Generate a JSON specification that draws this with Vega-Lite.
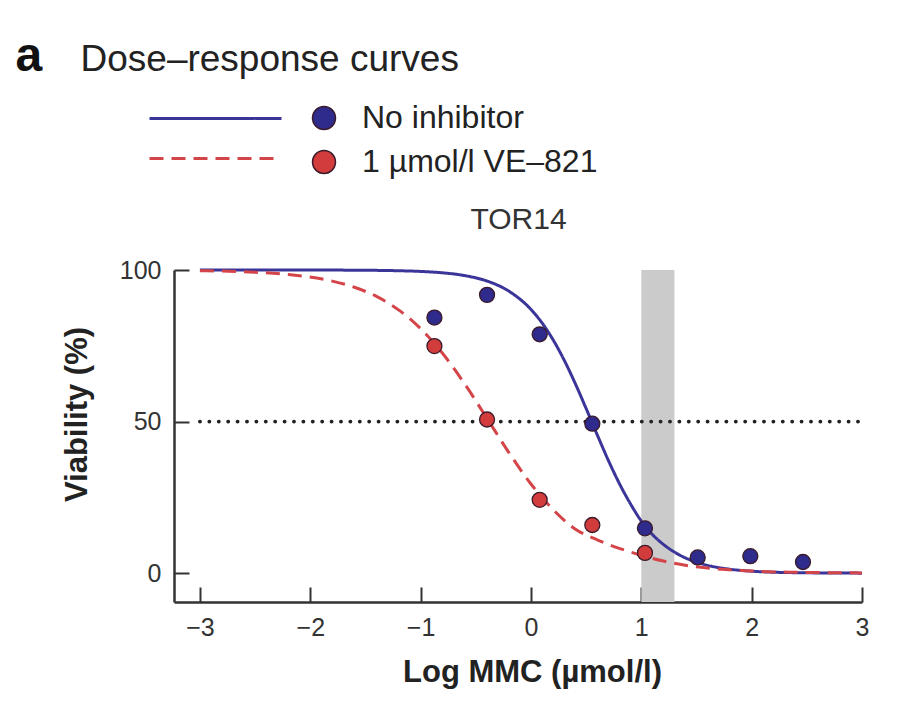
{
  "$schema": "https://vega.github.io/schema/vega-lite/v6.json",
  "width": 688,
  "height": 332,
  "autosize": {"type": "none"},
  "padding": {"left": 174, "top": 270, "right": 55, "bottom": 118},
  "background": "white",
  "config": {
    "view": {"stroke": null},
    "font": "Liberation Sans",
    "axis": {"labelFont": "Liberation Sans", "titleFont": "Liberation Sans", "grid": false, "labelColor": "#333", "titleColor": "#222"},
    "legend": {"labelFont": "Liberation Sans", "labelColor": "#222"}
  },
  "datasets": {
    "band": [{"x1": 1.0, "x2": 1.3, "y1": -9.5, "y2": 100}],
    "ref": [{"x1": -3, "x2": 3, "y": 50}],
    "curves": [
      {"curve": "No inhibitor fit", "x": -3.0, "y": 100},
      {"curve": "No inhibitor fit", "x": -2.6, "y": 100},
      {"curve": "No inhibitor fit", "x": -2.2, "y": 99.99},
      {"curve": "No inhibitor fit", "x": -1.8, "y": 99.97},
      {"curve": "No inhibitor fit", "x": -1.4, "y": 99.88},
      {"curve": "No inhibitor fit", "x": -1.2, "y": 99.76},
      {"curve": "No inhibitor fit", "x": -1.0, "y": 99.53},
      {"curve": "No inhibitor fit", "x": -0.8, "y": 99.07},
      {"curve": "No inhibitor fit", "x": -0.6, "y": 98.15},
      {"curve": "No inhibitor fit", "x": -0.4, "y": 96.38},
      {"curve": "No inhibitor fit", "x": -0.2, "y": 93.02},
      {"curve": "No inhibitor fit", "x": 0.0, "y": 86.99},
      {"curve": "No inhibitor fit", "x": 0.1, "y": 82.56},
      {"curve": "No inhibitor fit", "x": 0.2, "y": 77.01},
      {"curve": "No inhibitor fit", "x": 0.3, "y": 70.34},
      {"curve": "No inhibitor fit", "x": 0.4, "y": 62.67},
      {"curve": "No inhibitor fit", "x": 0.5, "y": 54.31},
      {"curve": "No inhibitor fit", "x": 0.6, "y": 45.69},
      {"curve": "No inhibitor fit", "x": 0.7, "y": 37.33},
      {"curve": "No inhibitor fit", "x": 0.8, "y": 29.66},
      {"curve": "No inhibitor fit", "x": 0.9, "y": 22.99},
      {"curve": "No inhibitor fit", "x": 1.0, "y": 17.2},
      {"curve": "No inhibitor fit", "x": 1.1, "y": 12.8},
      {"curve": "No inhibitor fit", "x": 1.2, "y": 9.5},
      {"curve": "No inhibitor fit", "x": 1.3, "y": 6.97},
      {"curve": "No inhibitor fit", "x": 1.4, "y": 5.04},
      {"curve": "No inhibitor fit", "x": 1.6, "y": 2.59},
      {"curve": "No inhibitor fit", "x": 1.8, "y": 1.32},
      {"curve": "No inhibitor fit", "x": 2.0, "y": 0.66},
      {"curve": "No inhibitor fit", "x": 2.4, "y": 0.17},
      {"curve": "No inhibitor fit", "x": 3.0, "y": 0.02},
      {"curve": "VE-821 fit", "x": -3.0, "y": 99.76},
      {"curve": "VE-821 fit", "x": -2.6, "y": 99.4},
      {"curve": "VE-821 fit", "x": -2.2, "y": 98.51},
      {"curve": "VE-821 fit", "x": -1.8, "y": 96.34},
      {"curve": "VE-821 fit", "x": -1.6, "y": 94.31},
      {"curve": "VE-821 fit", "x": -1.4, "y": 91.28},
      {"curve": "VE-821 fit", "x": -1.2, "y": 86.85},
      {"curve": "VE-821 fit", "x": -1.0, "y": 80.65},
      {"curve": "VE-821 fit", "x": -0.8, "y": 72.45},
      {"curve": "VE-821 fit", "x": -0.6, "y": 62.4},
      {"curve": "VE-821 fit", "x": -0.4, "y": 51.15},
      {"curve": "VE-821 fit", "x": -0.2, "y": 39.78},
      {"curve": "VE-821 fit", "x": 0.0, "y": 29.42},
      {"curve": "VE-821 fit", "x": 0.2, "y": 21.0},
      {"curve": "VE-821 fit", "x": 0.4, "y": 14.6},
      {"curve": "VE-821 fit", "x": 0.6, "y": 11.0},
      {"curve": "VE-821 fit", "x": 0.8, "y": 8.2},
      {"curve": "VE-821 fit", "x": 1.0, "y": 5.9},
      {"curve": "VE-821 fit", "x": 1.2, "y": 4.0},
      {"curve": "VE-821 fit", "x": 1.4, "y": 2.6},
      {"curve": "VE-821 fit", "x": 1.6, "y": 1.7},
      {"curve": "VE-821 fit", "x": 1.8, "y": 1.1},
      {"curve": "VE-821 fit", "x": 2.0, "y": 0.7},
      {"curve": "VE-821 fit", "x": 2.4, "y": 0.3},
      {"curve": "VE-821 fit", "x": 3.0, "y": 0.1}
    ],
    "points": [
      {"group": "No inhibitor", "x": -0.875, "y": 84.3},
      {"group": "No inhibitor", "x": -0.398, "y": 91.8},
      {"group": "No inhibitor", "x": 0.079, "y": 78.8},
      {"group": "No inhibitor", "x": 0.556, "y": 49.3},
      {"group": "No inhibitor", "x": 1.033, "y": 14.8},
      {"group": "No inhibitor", "x": 1.511, "y": 5.2},
      {"group": "No inhibitor", "x": 1.988, "y": 5.6},
      {"group": "No inhibitor", "x": 2.465, "y": 3.7},
      {"group": "1 µmol/l VE–821", "x": -0.875, "y": 74.9},
      {"group": "1 µmol/l VE–821", "x": -0.398, "y": 50.7},
      {"group": "1 µmol/l VE–821", "x": 0.079, "y": 24.2},
      {"group": "1 µmol/l VE–821", "x": 0.556, "y": 15.9},
      {"group": "1 µmol/l VE–821", "x": 1.033, "y": 6.7}
    ]
  },
  "resolve": {"axis": {"x": "independent", "y": "independent"}},
  "layer": [
    {
      "data": {"name": "band"},
      "mark": {"type": "rect", "color": "#cbcbcb"},
      "encoding": {
        "x": {"field": "x1", "type": "quantitative", "scale": {"domain": [-3.235, 3], "nice": false, "zero": false},
          "axis": {"orient": "top", "title": "Dose–response curves", "domain": false, "ticks": false, "labels": false,
            "titleX": -94, "titleY": -200, "titleAlign": "left", "titleBaseline": "alphabetic", "titleAngle": 0,
            "titleFontSize": 37, "titleFontWeight": "normal", "titleColor": "#222"}},
        "x2": {"field": "x2"},
        "y": {"field": "y1", "type": "quantitative", "scale": {"domain": [-9.5, 100], "nice": false, "zero": false}, "axis": null},
        "y2": {"field": "y2"}
      }
    },
    {
      "data": {"name": "ref"},
      "mark": {"type": "rule", "color": "#222", "strokeWidth": 3.8, "strokeDash": [0.1, 9.3], "strokeCap": "round"},
      "encoding": {
        "x": {"field": "x1", "type": "quantitative", "scale": {"domain": [-3.235, 3], "nice": false, "zero": false},
          "axis": {"orient": "top", "title": "TOR14", "domain": false, "ticks": false, "labels": false,
            "titleX": 344, "titleY": -42, "titleAlign": "center", "titleBaseline": "alphabetic", "titleAngle": 0,
            "titleFontSize": 30, "titleFontWeight": "normal", "titleColor": "#333"}},
        "x2": {"field": "x2"},
        "y": {"field": "y", "type": "quantitative", "scale": {"domain": [-9.5, 100], "nice": false, "zero": false},
          "axis": {"orient": "right", "title": "a", "domain": false, "ticks": false, "labels": false,
            "titleX": -847, "titleY": -200, "titleAlign": "left", "titleBaseline": "alphabetic", "titleAngle": 0,
            "titleFontSize": 48, "titleFontWeight": "bold", "titleColor": "#111"}}
      }
    },
    {
      "data": {"name": "curves"},
      "mark": {"type": "line", "strokeWidth": 3, "interpolate": "monotone"},
      "encoding": {
        "x": {"field": "x", "type": "quantitative", "scale": {"domain": [-3.235, 3], "nice": false, "zero": false}, "axis": null},
        "y": {"field": "y", "type": "quantitative", "scale": {"domain": [-9.5, 100], "nice": false, "zero": false}, "axis": null},
        "stroke": {"field": "curve", "type": "nominal",
          "scale": {"domain": ["No inhibitor fit", "VE-821 fit"], "range": ["#3b3599", "#d4454a"]},
          "legend": {"orient": "none", "legendX": 29, "legendY": -164, "title": null, "padding": 0,
            "symbolType": "M-6,0H6", "symbolSize": 484, "symbolStrokeWidth": 3,
            "labelExpr": "''", "labelFontSize": 1, "rowPadding": 21}},
        "strokeDash": {"field": "curve", "type": "nominal",
          "scale": {"domain": ["No inhibitor fit", "VE-821 fit"], "range": [[1, 0], [14, 8]]},
          "legend": {"orient": "none", "legendX": 29, "legendY": -164, "title": null, "padding": 0,
            "symbolType": "M-6,0H6", "symbolSize": 484, "symbolStrokeWidth": 3,
            "labelExpr": "''", "labelFontSize": 1, "rowPadding": 21}}
      }
    },
    {
      "data": {"name": "points"},
      "mark": {"type": "circle", "size": 225, "opacity": 1, "stroke": "#3a1a2a", "strokeWidth": 1.3},
      "encoding": {
        "x": {"field": "x", "type": "quantitative", "scale": {"domain": [-3.235, 3], "nice": false, "zero": false},
          "axis": {"orient": "bottom", "title": "Log MMC (µmol/l)", "values": [-3, -2, -1, 0, 1, 2, 3],
            "domainColor": "#333", "domainWidth": 2.5, "tickColor": "#333", "tickWidth": 2, "tickSize": -15,
            "labelFontSize": 25, "labelPadding": 28, "labelFlush": false, "labelOverlap": false,
            "titleX": 358, "titleY": 79, "titleAlign": "center", "titleBaseline": "alphabetic",
            "titleFontSize": 31, "titleFontWeight": "bold"}},
        "y": {"field": "y", "type": "quantitative", "scale": {"domain": [-9.5, 100], "nice": false, "zero": false},
          "axis": {"orient": "left", "title": "Viability (%)", "values": [0, 50, 100],
            "domainColor": "#333", "domainWidth": 2.5, "tickColor": "#333", "tickWidth": 2, "tickSize": -15,
            "labelFontSize": 25, "labelPadding": 28, "labelFlush": false, "labelOverlap": false,
            "titleX": -88, "titleY": 144, "titleAngle": 270, "titleAlign": "center", "titleBaseline": "alphabetic",
            "titleFontSize": 31, "titleFontWeight": "bold"}},
        "fill": {"field": "group", "type": "nominal",
          "scale": {"domain": ["No inhibitor", "1 µmol/l VE–821"], "range": ["#2e2b8c", "#d23c3c"]},
          "legend": {"orient": "none", "legendX": 134, "legendY": -168, "title": null, "padding": 0,
            "symbolType": "circle", "symbolSize": 529, "symbolStrokeColor": "#3a1a2a", "symbolStrokeWidth": 1.5,
            "symbolOpacity": 1, "labelFontSize": 32, "labelOffset": 22, "labelLimit": 0, "rowPadding": 12, "labelColor": "#222"}}
      }
    }
  ]
}
